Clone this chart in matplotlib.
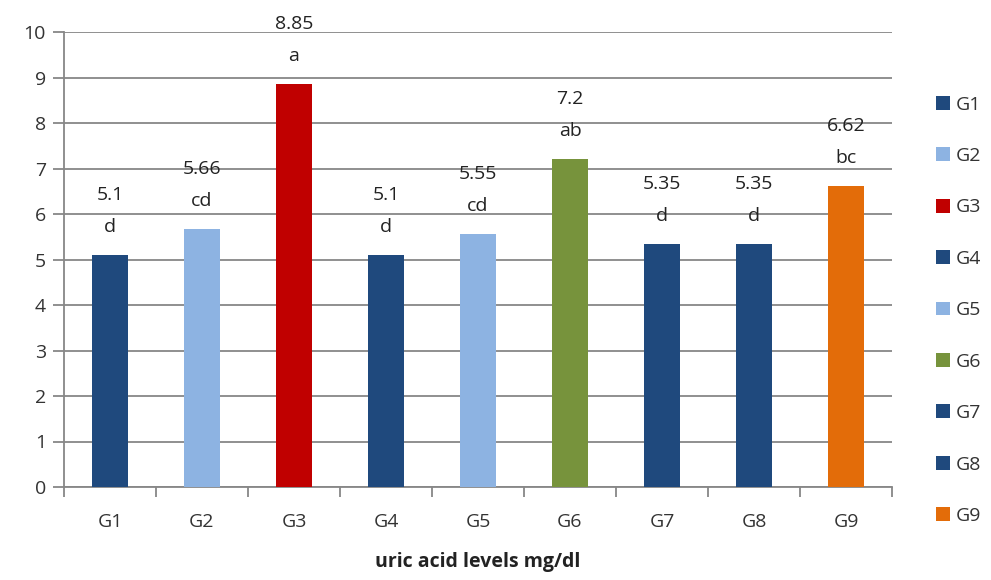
import matplotlib.pyplot as plt
from matplotlib.patches import Patch

groups = ['G1', 'G2', 'G3', 'G4', 'G5', 'G6', 'G7', 'G8', 'G9']
uric_acid = [5.1, 5.66, 8.85, 5.1, 5.55, 7.2, 5.35, 5.35, 6.62]
letters = ['d', 'cd', 'a', 'd', 'cd', 'ab', 'd', 'd', 'bc']
colors = ['#1F497D', '#8DB3E2', '#C00000', '#1F497D', '#8DB3E2',
          '#77933C', '#1F497D', '#1F497D', '#E36C09']

plt.rcParams['font.family'] = ['Open Sans', 'DejaVu Sans']
fs = 14

fig = plt.figure(figsize=(9.91, 5.8), dpi=100)
ax = fig.add_axes([64 / 991, 93 / 580, 828 / 991, 455 / 580])

x = list(range(len(groups)))
ax.bar(x, uric_acid, width=0.39, color=colors, zorder=3)

# value and significance letter stacked above each bar
for xi, v, let in zip(x, uric_acid, letters):
    ax.annotate(let, (xi, v), xytext=(0, 28), textcoords='offset pixels',
                ha='center', va='center', fontsize=fs, color='#222222')
    ax.annotate(str(v), (xi, v), xytext=(0, 60), textcoords='offset pixels',
                ha='center', va='center', fontsize=fs, color='#222222',
                annotation_clip=False)

ax.set_xlim(-0.5, len(groups) - 0.5)
ax.set_ylim(0, 10)
ax.set_yticks(range(0, 11))
ax.grid(axis='y', color='#878787', linewidth=1.3, zorder=0)

# category boundary ticks on x axis, labels centred
ax.set_xticks([i - 0.5 for i in range(len(groups) + 1)])
ax.set_xticklabels([])
ax.set_xticks(x, minor=True)
ax.set_xticklabels(groups, minor=True)
ax.tick_params(axis='x', which='major', length=7, color='#878787', width=1.3)
ax.tick_params(axis='x', which='minor', length=0, pad=19, labelsize=fs,
               labelcolor='#333333')
ax.tick_params(axis='y', length=8, color='#878787', width=1.3, pad=5,
               labelsize=fs, labelcolor='#333333')

for side in ['top', 'right']:
    ax.spines[side].set_visible(False)
for side in ['left', 'bottom']:
    ax.spines[side].set_color('#878787')
    ax.spines[side].set_linewidth(1.3)

ax.set_xlabel('uric acid levels mg/dl', fontsize=fs, fontweight='bold',
              color='#222222', labelpad=15)

handles = [Patch(facecolor=c) for c in colors]
fig.legend(handles, groups, loc='center left', bbox_to_anchor=(936 / 991, 0.465),
           frameon=False, fontsize=fs, handlelength=0.72, handleheight=0.72,
           handletextpad=0.3, labelspacing=1.72, labelcolor='#333333',
           borderpad=0, borderaxespad=0)

fig.savefig('out.png', dpi=100)
